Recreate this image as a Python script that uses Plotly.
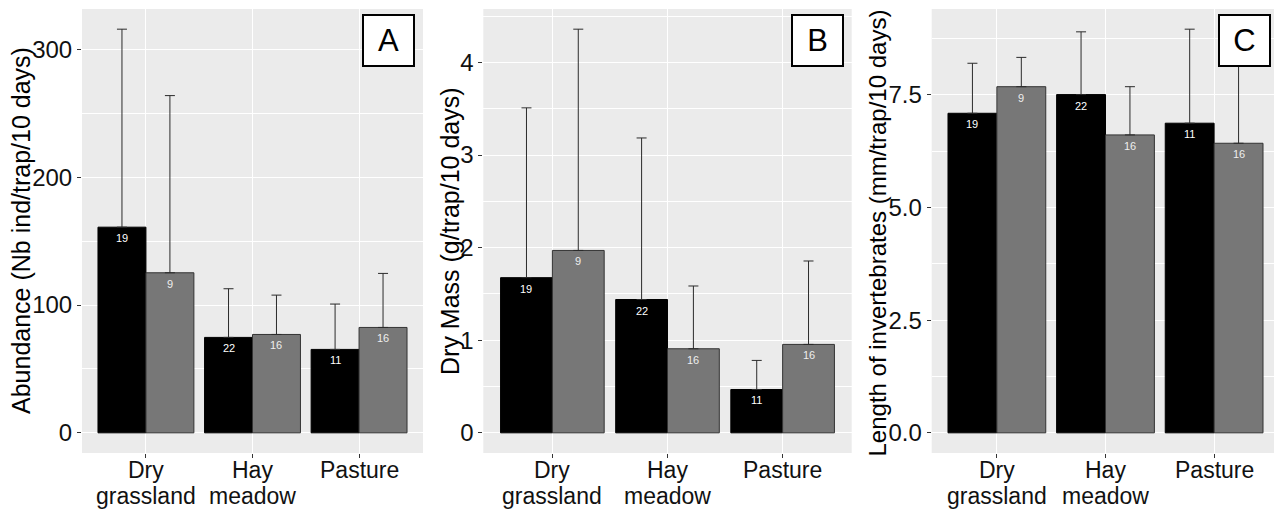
import plotly.graph_objects as go

# ---------------- data ----------------
categories = ["Dry<br>grassland", "Hay<br>meadow", "Pasture"]

n_black = [19, 22, 11]
n_gray = [9, 16, 16]

abund_black = [161.0, 74.7, 65.3]
abund_black_sd = [155.0, 38.1, 35.5]
abund_gray = [125.3, 77.0, 82.5]
abund_gray_sd = [138.7, 30.8, 42.3]

mass_black = [1.676, 1.44, 0.468]
mass_black_sd = [1.834, 1.745, 0.314]
mass_gray = [1.97, 0.908, 0.955]
mass_gray_sd = [2.39, 0.678, 0.901]

len_black = [7.09, 7.505, 6.87]
len_black_sd = [1.11, 1.392, 2.086]
len_gray = [7.68, 6.61, 6.425]
len_gray_sd = [0.65, 1.07, 1.715]

panel_letters = ["A", "B", "C"]
y_titles = [
    "Abundance (Nb ind/trap/10 days)",
    "Dry Mass (g/trap/10 days)",
    "Length of invertebrates (mm/trap/10 days)",
]

# ---------------- layout helpers ----------------
# the page body has an 8px margin, so the figure is drawn 8px in from the corner
OFF = 8
W, H = 1282 - OFF, 513 - OFF


def px_x(x):
    return (x - OFF) / W


def px_y(y):
    return (H - (y - OFF)) / H


panels = [
    dict(black=abund_black, bsd=abund_black_sd, gray=abund_gray, gsd=abund_gray_sd,
         x0=82, x1=423, dtick=100, minor=50, fmt="d", title_x=21, title_size=25,
         title_y=231),
    dict(black=mass_black, bsd=mass_black_sd, gray=mass_gray, gsd=mass_gray_sd,
         x0=483.3, x1=851.7, dtick=1, minor=0.5, fmt="d", title_x=450, title_size=25,
         title_y=231),
    dict(black=len_black, bsd=len_black_sd, gray=len_gray, gsd=len_gray_sd,
         x0=931.7, x1=1279.3, dtick=2.5, minor=1.25, fmt=".1f", title_x=877.5,
         title_size=24, title_y=233),
]
plot_top, plot_bot = 9, 453
label_line_centers = [469.5, 495.5]   # pixel centres of the two x-label lines
FONT = "Arial, Liberation Sans, sans-serif"
BLACK_FILL = "#000000"
GRAY_FILL = "#777777"
HALF = 0.225

fig = go.Figure()
annotations = []
idx = list(range(len(categories)))

for i, p in enumerate(panels):
    xa = "x" if i == 0 else f"x{i+1}"
    ya = "y" if i == 0 else f"y{i+1}"
    xb = [k - HALF for k in idx]
    xg = [k + HALF for k in idx]
    fig.add_trace(go.Bar(
        x=xb, y=p["black"], width=2 * HALF, xaxis=xa, yaxis=ya,
        marker=dict(color=BLACK_FILL, line=dict(color="#000000", width=1)),
        error_y=dict(type="data", symmetric=False, array=p["bsd"],
                     arrayminus=[0] * 3, color="#2b2b2b", thickness=1, width=5),
        showlegend=False,
    ))
    fig.add_trace(go.Bar(
        x=xg, y=p["gray"], width=2 * HALF, xaxis=xa, yaxis=ya,
        marker=dict(color=GRAY_FILL, line=dict(color="#333333", width=1)),
        error_y=dict(type="data", symmetric=False, array=p["gsd"],
                     arrayminus=[0] * 3, color="#2b2b2b", thickness=1, width=5),
        showlegend=False,
    ))
    tops = [v + s for v, s in zip(p["black"], p["bsd"])] + \
           [v + s for v, s in zip(p["gray"], p["gsd"])]
    ymax = max(tops)
    yr = [-0.05 * ymax, 1.05 * ymax]

    dom_x = [px_x(p["x0"]), px_x(p["x1"])]
    dom_y = [px_y(plot_bot), px_y(plot_top)]
    xkey = "xaxis" if i == 0 else f"xaxis{i+1}"
    ykey = "yaxis" if i == 0 else f"yaxis{i+1}"
    fig.update_layout(**{
        xkey: dict(domain=dom_x, anchor=ya, range=[-0.6, 2.6], automargin=False,
                   tickvals=idx, showticklabels=False,
                   showgrid=True, gridcolor="white", gridwidth=1.2,
                   zeroline=False, showline=False,
                   ticks="outside", ticklen=4, tickcolor="#333333", tickwidth=1),
        ykey: dict(domain=dom_y, anchor=xa, range=yr, automargin=False,
                   tick0=0, dtick=p["dtick"], tickformat=p["fmt"],
                   showgrid=True, gridcolor="white", gridwidth=1.2,
                   minor=dict(dtick=p["minor"], tick0=0, showgrid=True,
                              gridcolor="white", gridwidth=0.6, ticks=""),
                   zeroline=False, showline=False,
                   ticks="outside", ticklen=4, tickcolor="#333333", tickwidth=1,
                   tickfont=dict(family=FONT, size=24, color="#111111")),
    })

    # category labels under the axis (two lines, ggplot-style tight spacing)
    for k in idx:
        for j, line in enumerate(categories[k].split("<br>")):
            annotations.append(dict(x=k, y=px_y(label_line_centers[j]),
                                    xref=xa, yref="paper",
                                    xanchor="center", yanchor="middle",
                                    text=line, showarrow=False,
                                    font=dict(family=FONT, size=23, color="#111111")))

    # n labels inside bars
    for k in idx:
        annotations.append(dict(x=xb[k], y=p["black"][k], xref=xa, yref=ya,
                                text=str(n_black[k]), showarrow=False, yshift=-11,
                                font=dict(family=FONT, size=11, color="#ffffff")))
        annotations.append(dict(x=xg[k], y=p["gray"][k], xref=xa, yref=ya,
                                text=str(n_gray[k]), showarrow=False, yshift=-11,
                                font=dict(family=FONT, size=11, color="#eeeeee")))
    # panel letter box
    annotations.append(dict(x=1, y=1, xref=f"{xa} domain", yref=f"{ya} domain",
                            xanchor="right", yanchor="top", xshift=-8, yshift=-5,
                            text=panel_letters[i], showarrow=False,
                            width=49, height=49, borderpad=0,
                            bgcolor="white", bordercolor="black", borderwidth=2,
                            font=dict(family=FONT, size=31, color="black")))
    # y title
    annotations.append(dict(x=px_x(p["title_x"]), y=px_y(p["title_y"]),
                            xref="paper", yref="paper", xanchor="center", yanchor="middle",
                            textangle=-90, text=y_titles[i], showarrow=False,
                            font=dict(family=FONT, size=p["title_size"], color="black")))

fig.update_layout(
    width=W, height=H,
    margin=dict(l=0, r=0, t=0, b=0, autoexpand=False),
    paper_bgcolor="white", plot_bgcolor="#EBEBEB",
    barmode="overlay", showlegend=False,
    annotations=annotations,
    font=dict(family=FONT),
)

fig.write_html("out.html")
